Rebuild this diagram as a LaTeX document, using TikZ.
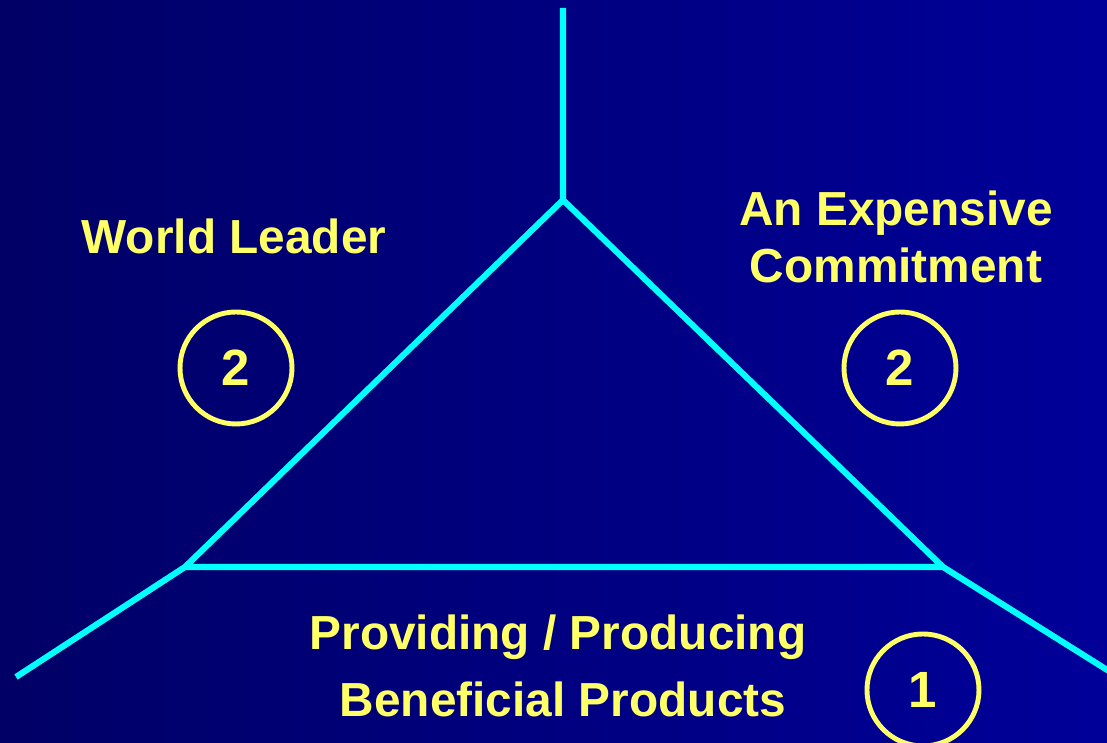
\documentclass[tikz,border=0pt]{standalone}
\usepackage{fontspec}
\setmainfont{Liberation Sans}
\usetikzlibrary{positioning}
\definecolor{navyL}{RGB}{0,0,102}
\definecolor{navyR}{RGB}{0,0,153}
\definecolor{cyanline}{RGB}{0,255,255}
\definecolor{yellowtxt}{RGB}{255,255,102}
\tikzset{
  edgeline/.style={draw=cyanline,line width=1.75pt,line join=miter},
  label/.style={text=yellowtxt,font=\fontsize{13.6}{16.2}\selectfont\bfseries,align=center},
  rank/.style={circle,draw=yellowtxt,line width=1.4pt,minimum size=1.12cm,inner sep=0pt,
    text=yellowtxt,font=\fontsize{14.5}{17}\selectfont\bfseries}
}
\begin{document}
\begin{tikzpicture}
                        % background
                        \shade[left color=navyL,right color=navyR] (0,0) rectangle (11.07,-7.43);
                        \useasboundingbox (0,0) rectangle (11.07,-7.43);
                        % triangle corners and free ends
                        \coordinate (Top)   at (5.63,-2.00);
                        \coordinate (Left)  at (1.85,-5.67);
                        \coordinate (Right) at (9.43,-5.67);
                        \coordinate (TopEnd)   at (5.63,-0.08);
                        \coordinate (LeftEnd)  at (0.16,-6.77);
                        \coordinate (RightEnd) at (11.20,-6.78);
                        \path[edgeline]
                            (Top) -- (Left) -- (Right) -- cycle
                            (Top) -- (TopEnd)
                            (Left) -- (LeftEnd)
                            (Right) -- (RightEnd);
                        % labels
                        \node[label] (Leader) at (2.34,-2.36) {World Leader};
                        \node[label] (Expensive) at (8.96,-2.37) {An Expensive\\Commitment};
                        \node[label,font=\fontsize{13.6}{19.3}\selectfont\bfseries] (Products) at (5.58,-6.66)
                            {Providing / Producing\\\hspace*{0.1cm}Beneficial Products};
                        \node[rank] (RankL) at (2.36,-3.68) {2};
                        \node[rank] (RankR) at (9.00,-3.68) {2};
                        \node[rank] (RankB) at (9.23,-6.90) {1};
                    \end{tikzpicture}
\end{document}
